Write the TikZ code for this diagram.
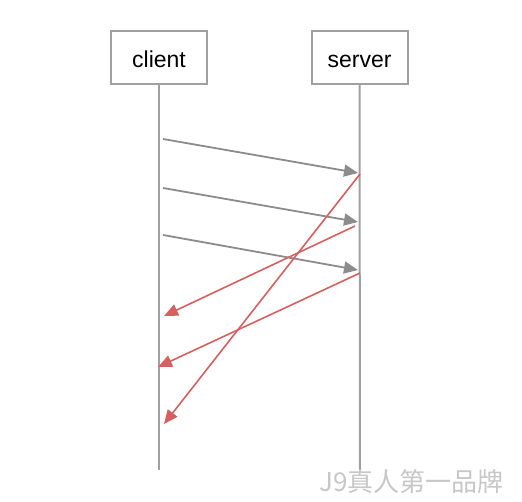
\documentclass[tikz,border=0pt]{standalone}
\usepackage{fontspec}
\setmainfont{Liberation Sans}
\newfontfamily\cjk{Noto Sans CJK SC}
\usetikzlibrary{arrows.meta}
\definecolor{boxgray}{RGB}{160,160,160}
\definecolor{arrgray}{RGB}{140,140,140}
\definecolor{arrred}{RGB}{214,96,96}
\begin{document}
\begin{tikzpicture}[x=1pt,y=-1pt,
  actor/.style={draw=boxgray,line width=2pt,minimum width=96pt,minimum height=53pt,inner sep=0pt,text height=21pt,text depth=0pt,font=\fontsize{23}{26}\selectfont},
  life/.style={draw=boxgray,line width=2pt},
  req/.style={draw=arrgray,line width=1.8pt,-{Triangle[length=14pt,width=12pt]}},
  resp/.style={draw=arrred,line width=1.6pt,-{Triangle[length=14pt,width=12pt]}}]
\useasboundingbox (0,0) rectangle (522,502);
\node[actor] (client) at (159,57.5) {client};
\node[actor] (server) at (359.5,57.5) {server};
\coordinate (cend) at (159,470);
\coordinate (send) at (360,472);
\draw[life] (client.south) -- (cend);
\draw[life] (server.south) -- (send);
% requests
\coordinate (c1) at (163,139);
\coordinate (c2) at (163,188);
\coordinate (c3) at (163,235);
\coordinate (s1) at (358,173);
\coordinate (s2) at (358,222);
\coordinate (s3) at (358,270);
\draw[req] (c1) -- (s1);
\draw[req] (c2) -- (s2);
\draw[req] (c3) -- (s3);
% responses
\coordinate (r1) at (360,174);
\coordinate (r2) at (355,226);
\coordinate (r3) at (360,273);
\coordinate (d1) at (164,424);
\coordinate (d2) at (164,316);
\coordinate (d3) at (158,367);
\draw[resp] (r1) -- (d1);
\draw[resp] (r2) -- (d2);
\draw[resp] (r3) -- (d3);
\node[text=black!22,font=\cjk\fontsize{26}{28}\selectfont,anchor=west,inner sep=0pt] (wm) at (319,482) {J9真人第一品牌};
\end{tikzpicture}
\end{document}
